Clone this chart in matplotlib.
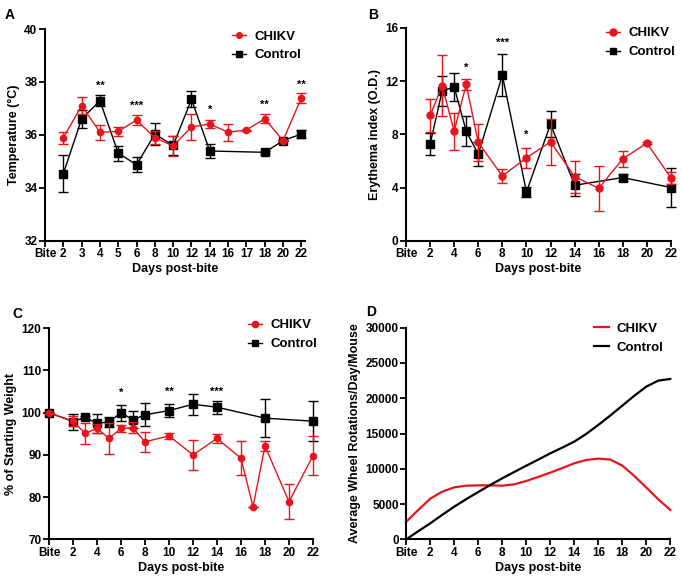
import numpy as np
import matplotlib
matplotlib.use("Agg")
import matplotlib.pyplot as plt

plt.rcParams['font.family'] = ['Liberation Sans', 'DejaVu Sans']
plt.rcParams['font.weight'] = 'bold'
plt.rcParams['axes.labelweight'] = 'bold'

RED = '#e8141b'
BLACK = '#000000'

# ---------------- Panel A: temperature ----------------
a_categories = ['Bite', '2', '3', '4', '5', '6', '8', '10', '12', '14', '16', '17', '18', '20', '22']
a_chikv = [np.nan, 35.89, 37.10, 36.10, 36.13, 36.56, 35.89, 35.58, 36.30, 36.41, 36.10, 36.18, 36.61, 35.78, 37.40]
a_chikv_err = [np.nan, 0.23, 0.33, 0.28, 0.18, 0.20, 0.25, 0.37, 0.48, 0.15, 0.32, 0.02, 0.17, 0.02, 0.20]
a_ctrl = [np.nan, 34.53, 36.60, 37.29, 35.31, 34.87, 36.03, 35.60, 37.34, 35.39, np.nan, np.nan, 35.34, 35.78, 36.03]
a_ctrl_err = [np.nan, 0.70, 0.35, 0.20, 0.28, 0.28, 0.43, 0.35, 0.30, 0.25, np.nan, np.nan, 0.05, 0.02, 0.15]
a_stars = ['**', '***', '*', '**', '**']
a_star_cats = ['4', '6', '14', '18', '22']
a_star_y = [37.85, 37.10, 36.94, 37.12, 37.90]

# ---------------- Panel B: erythema ----------------
b_days = [2, 3, 4, 5, 6, 8, 10, 12, 14, 16, 18, 20, 22]
b_chikv = [9.42, 11.65, 8.24, 11.76, 7.39, 4.87, 6.23, 7.44, 4.82, 3.94, 6.16, 7.34, 4.72]
b_chikv_err = [1.25, 2.30, 1.40, 0.40, 1.40, 0.55, 0.78, 1.75, 1.20, 1.68, 0.60, 0.05, 0.48]
b_ctrl = [7.26, 11.26, 11.56, 8.24, 6.51, 12.44, 3.67, 8.77, 4.17, np.nan, 4.75, np.nan, 4.00]
b_ctrl_err = [0.85, 1.15, 1.05, 1.15, 0.90, 1.57, 0.38, 1.00, 0.82, np.nan, 0.25, np.nan, 1.45]
b_stars = ['*', '***', '*']
b_star_days = [5, 8, 10]
b_star_y = [12.98, 14.87, 7.96]

# ---------------- Panel C: weight ----------------
c_days = [0, 2, 3, 4, 5, 6, 7, 8, 10, 12, 14, 16, 17, 18, 20, 22]
c_chikv = [100.0, 98.0, 95.1, 96.3, 93.9, 96.3, 96.4, 93.1, 94.5, 90.0, 93.9, 89.2, 77.7, 92.1, 78.9, 89.8]
c_chikv_err = [0.0, 1.2, 2.5, 1.0, 3.7, 0.8, 1.3, 2.3, 0.7, 3.6, 1.0, 4.0, 0.0, 1.2, 4.1, 4.6]
c_ctrl = [100.0, 97.9, 98.9, 97.5, 97.8, 100.0, 98.3, 99.5, 100.5, 102.0, 101.3, np.nan, np.nan, 98.7, np.nan, 98.0]
c_ctrl_err = [0.0, 1.9, 0.4, 2.3, 1.2, 1.9, 2.0, 2.7, 1.5, 2.5, 1.5, np.nan, np.nan, 4.5, np.nan, 4.8]
c_stars = ['*', '**', '***']
c_star_days = [6, 10, 14]
c_star_y = [104.8, 105.0, 105.0]

# ---------------- Panel D: wheel rotations ----------------
d_days = list(range(0, 23))
d_chikv = [2500, 4160, 5770, 6760, 7370, 7600, 7650, 7650, 7600, 7800, 8270, 8850, 9450,
           10100, 10780, 11250, 11440, 11300, 10450, 8980, 7330, 5670, 4160]
d_ctrl = [0, 1150, 2270, 3470, 4630, 5700, 6710, 7700, 8650, 9550, 10440, 11300, 12190,
          13000, 13850, 14950, 16210, 17550, 18950, 20350, 21650, 22500, 22730]

day_ticks = list(range(0, 23, 2))
day_labels = ['Bite'] + [str(d) for d in day_ticks[1:]]

W, H = 682, 579
fig = plt.figure(figsize=(W / 100, H / 100), dpi=100)


def px_axes(left, top, right, bottom):
    return fig.add_axes([left / W, 1 - bottom / H, (right - left) / W, (bottom - top) / H])


def style(ax):
    for s in ['top', 'right']:
        ax.spines[s].set_visible(False)
    for s in ['left', 'bottom']:
        ax.spines[s].set_linewidth(1.5)
    ax.tick_params(direction='out', length=4, width=1.3, labelsize=8.5, pad=1.5)
    for lab in ax.get_xticklabels() + ax.get_yticklabels():
        lab.set_fontweight('bold')
    ax.set_xlabel('Days post-bite', fontsize=9, fontweight='bold', labelpad=2)


def series(ax, x, y, e, color, marker, ms, z):
    x = np.asarray(x, float); y = np.asarray(y, float); e = np.asarray(e, float)
    m = ~np.isnan(y)
    ax.errorbar(x[m], y[m], yerr=e[m], color=color, marker=marker, ms=ms, lw=1.0,
                elinewidth=1.0, capsize=3.5, capthick=1.0, zorder=z, clip_on=False)


def legend(ax, handles_kw, loc_xy):
    from matplotlib.lines import Line2D
    hs = [Line2D([], [], **kw) for kw in handles_kw]
    ax.legend(hs, ['CHIKV', 'Control'], loc='upper right', bbox_to_anchor=loc_xy,
              frameon=False, fontsize=9.5, handlelength=1.1, handletextpad=0.6,
              labelspacing=0.5, prop={'weight': 'bold', 'size': 9.5})


# ---- A ----
axA = px_axes(45, 29, 305, 240.7)
xa = np.arange(len(a_categories))
series(axA, xa, a_ctrl, a_ctrl_err, BLACK, 's', 5.5, 3)
series(axA, xa, a_chikv, a_chikv_err, RED, 'o', 4.5, 4)
axA.set_xlim(0, 14.2)
axA.set_ylim(32, 40)
axA.set_yticks([32, 34, 36, 38, 40])
axA.set_xticks(xa)
axA.set_xticklabels(a_categories)
axA.set_ylabel('Temperature (°C)', fontsize=9, fontweight='bold', labelpad=3)
for s, c, y in zip(a_stars, a_star_cats, a_star_y):
    axA.text(a_categories.index(c), y, s, ha='center', va='center', fontsize=8, fontweight='bold')
style(axA)
legend(axA, [dict(color=RED, marker='o', ms=4, lw=1), dict(color=BLACK, marker='s', ms=4.5, lw=1)], (1.03, 1.05))

# ---- B ----
axB = px_axes(406, 28, 671, 240.7)
series(axB, b_days, b_ctrl, b_ctrl_err, BLACK, 's', 5.5, 3)
series(axB, b_days, b_chikv, b_chikv_err, RED, 'o', 5, 4)
axB.set_xlim(0, 22)
axB.set_ylim(0, 16)
axB.set_yticks([0, 4, 8, 12, 16])
axB.set_xticks(day_ticks)
axB.set_xticklabels(day_labels)
axB.set_ylabel('Erythema index (O.D.)', fontsize=9, fontweight='bold', labelpad=3)
for s, d, y in zip(b_stars, b_star_days, b_star_y):
    axB.text(d, y, s, ha='center', va='center', fontsize=8, fontweight='bold')
style(axB)
legend(axB, [dict(color=RED, marker='o', ms=5, lw=1), dict(color=BLACK, marker='s', ms=5, lw=1)], (1.06, 1.06))

# ---- C ----
axC = px_axes(49, 328.3, 313, 539.3)
series(axC, c_days, c_ctrl, c_ctrl_err, BLACK, 's', 5.5, 3)
series(axC, c_days, c_chikv, c_chikv_err, RED, 'o', 4.5, 4)
axC.set_xlim(0, 22)
axC.set_ylim(70, 120)
axC.set_yticks([70, 80, 90, 100, 110, 120])
axC.set_xticks(day_ticks)
axC.set_xticklabels(day_labels)
axC.set_ylabel('% of Starting Weight', fontsize=9, fontweight='bold', labelpad=3)
for s, d, y in zip(c_stars, c_star_days, c_star_y):
    axC.text(d, y, s, ha='center', va='center', fontsize=8, fontweight='bold')
style(axC)
legend(axC, [dict(color=RED, marker='o', ms=4.5, lw=1), dict(color=BLACK, marker='s', ms=5, lw=1)], (1.06, 1.10))

# ---- D ----
axD = px_axes(406.3, 327.7, 670.3, 539.3)
axD.plot(d_days, d_chikv, color=RED, lw=1.6, clip_on=False)
axD.plot(d_days, d_ctrl, color=BLACK, lw=1.6, clip_on=False)
axD.set_xlim(0, 22)
axD.set_ylim(0, 30000)
axD.set_yticks(range(0, 30001, 5000))
axD.set_xticks(day_ticks)
axD.set_xticklabels(day_labels)
axD.set_ylabel('Average Wheel Rotations/Day/Mouse', fontsize=9, fontweight='bold', labelpad=3)
style(axD)
legend(axD, [dict(color=RED, lw=1.6), dict(color=BLACK, lw=1.6)], (1.02, 1.08))

# panel letters
for letter, (x, y) in zip('ABCD', [(10, 15), (373, 15), (17, 314), (371, 312)]):
    fig.text(x / W, 1 - y / H, letter, fontsize=10, fontweight='bold', ha='center', va='center')

fig.savefig('out.png', dpi=100)
